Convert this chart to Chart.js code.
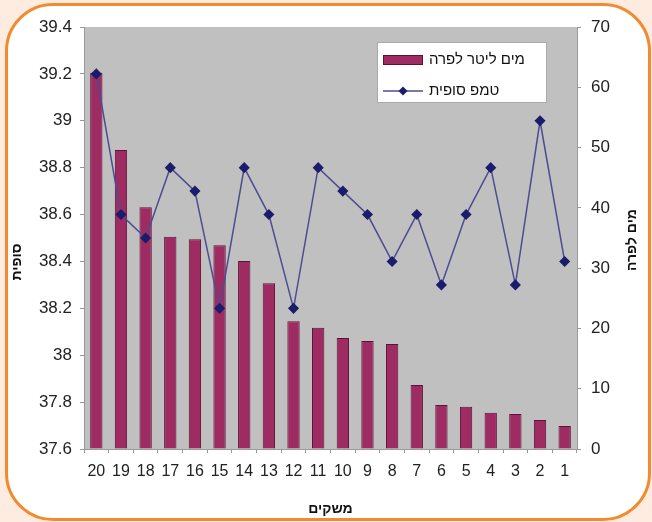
<!DOCTYPE html>
<html lang="he">
<head>
    <meta charset="UTF-8">
    <title>water per cow</title>
    <script src="https://cdn.jsdelivr.net/npm/chart.js"></script>
    <style>
        body { margin: 0; background: #fdecdf; }
        #frame {
            position: absolute; left: 5px; top: 3px; width: 646px; height: 518px;
            box-sizing: border-box; border: 3px solid #f28a30; border-radius: 48px; background: #fff;
        }
        #diagram { position: absolute; left: 0; top: 0; }
    </style>
</head>
<body>
<div id="frame"></div>
<canvas id="diagram" width="652" height="522"></canvas>
<script>
    const farms = ["20", "19", "18", "17", "16", "15", "14", "13", "12", "11",
                   "10", "9", "8", "7", "6", "5", "4", "3", "2", "1"];
    const waterPerCow = [62.4, 49.6, 40.1, 35.2, 34.8, 33.8, 31.2, 27.5, 21.2, 20.1,
                         18.4, 17.9, 17.4, 10.6, 7.3, 7.0, 6.0, 5.8, 4.8, 3.8];
    const finalTemp = [39.2, 38.6, 38.5, 38.8, 38.7, 38.2, 38.8, 38.6, 38.2, 38.8,
                       38.7, 38.6, 38.4, 38.6, 38.3, 38.6, 38.8, 38.3, 39.0, 38.4];

    const FONT = "'Liberation Sans', Arial, sans-serif";
    const barColor = "#9e2b62";
    const barBorder = "#5c1236";
    const lineColor = "#4c4c92";
    const markColor = "#1c1c6c";

    // gray plot area, own legend, rotated y titles
    const decor = {
        id: "decor",
        beforeDraw(chart) {
            const {ctx, chartArea: a} = chart;
            ctx.save();
            ctx.fillStyle = "#c0c0c0";
            ctx.fillRect(a.left, a.top, a.right - a.left, a.bottom - a.top);
            ctx.restore();
        },
        afterDraw(chart) {
            const ctx = chart.ctx;
            ctx.save();
            // legend
            ctx.fillStyle = "#fff";
            ctx.fillRect(377, 42, 170, 61);
            ctx.strokeStyle = "#aaa";
            ctx.lineWidth = 1;
            ctx.strokeRect(377.5, 42.5, 169, 60);
            ctx.fillStyle = barColor;
            ctx.strokeStyle = barBorder;
            ctx.fillRect(383, 55, 40, 10);
            ctx.strokeRect(383.5, 55.5, 39, 9);
            ctx.strokeStyle = lineColor;
            ctx.lineWidth = 1.5;
            ctx.beginPath();
            ctx.moveTo(383, 91);
            ctx.lineTo(423, 91);
            ctx.stroke();
            ctx.fillStyle = markColor;
            ctx.beginPath();
            ctx.moveTo(403, 86.5); ctx.lineTo(407.5, 91); ctx.lineTo(403, 95.5); ctx.lineTo(398.5, 91);
            ctx.closePath();
            ctx.fill();
            ctx.fillStyle = "#111";
            ctx.font = "15px " + FONT;
            ctx.textBaseline = "middle";
            ctx.textAlign = "left";
            ctx.fillText(chart.data.datasets[0].label, 429, 60);
            ctx.fillText(chart.data.datasets[1].label, 429, 91);

            // axis titles
            ctx.font = "bold 14px " + FONT;
            ctx.textAlign = "center";
            ctx.translate(17, 262);
            ctx.rotate(-Math.PI / 2);
            ctx.fillText("סופית", 0, 0);
            ctx.setTransform(1, 0, 0, 1, 0, 0);
            ctx.translate(632, 240);
            ctx.rotate(-Math.PI / 2);
            ctx.fillText("מים לפרה", 0, 0);
            ctx.restore();
        }
    };

    const chart = new Chart("diagram", {
        data: {
            labels: farms,
            datasets: [
                {
                    type: "bar",
                    label: "מים ליטר לפרה",
                    data: waterPerCow,
                    yAxisID: "y1",
                    backgroundColor: barColor,
                    borderColor: barBorder,
                    borderWidth: 1,
                    barPercentage: 0.5,
                    categoryPercentage: 1,
                    order: 1
                },
                {
                    type: "line",
                    label: "טמפ סופית",
                    data: finalTemp,
                    yAxisID: "y",
                    borderColor: lineColor,
                    borderWidth: 1.5,
                    pointStyle: "rectRot",
                    pointRadius: 4.5,
                    pointBackgroundColor: markColor,
                    pointBorderColor: markColor,
                    tension: 0,
                    order: 0
                }
            ]
        },
        options: {
            responsive: false,
            animation: false,
            layout: {padding: {top: 27, left: 0, right: 0, bottom: 0}},
            plugins: {
                legend: {display: false},
                tooltip: {enabled: false}
            },
            scales: {
                x: {
                    afterFit: s => { s.height = 73; },
                    grid: {drawOnChartArea: false, tickLength: 4, color: "#999"},
                    border: {color: "#999"},
                    ticks: {
                        autoSkip: false, maxRotation: 0, padding: 9,
                        color: "#222", font: {family: FONT, size: 16}
                    },
                    title: {
                        display: true, text: "משקים", color: "#111",
                        font: {family: FONT, size: 14, weight: "bold"},
                        padding: {top: 0, bottom: 4}
                    }
                },
                y: {
                    position: "left",
                    min: 37.6, max: 39.4,
                    afterFit: s => { s.width = 84; },
                    grid: {drawOnChartArea: false, tickLength: 4, color: "#999"},
                    border: {color: "#999"},
                    ticks: {
                        stepSize: 0.2, padding: 8, color: "#222",
                        font: {family: FONT, size: 17},
                        callback: v => String(+v.toFixed(1))
                    }
                },
                y1: {
                    position: "right",
                    min: 0, max: 70,
                    afterFit: s => { s.width = 75; },
                    grid: {drawOnChartArea: false, tickLength: 4, color: "#999"},
                    border: {color: "#999"},
                    ticks: {
                        stepSize: 10, padding: 10, color: "#222",
                        font: {family: FONT, size: 17}
                    }
                }
            }
        },
        plugins: [decor]
    });
</script>
</body>
</html>
